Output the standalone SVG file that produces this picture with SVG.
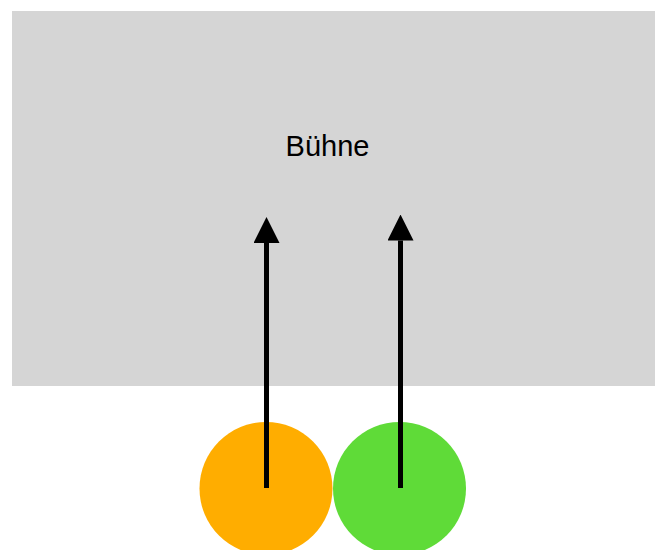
<svg xmlns="http://www.w3.org/2000/svg" width="657" height="550" viewBox="0 0 657 550">
<defs>
<style>
.lbl{font-family:"Liberation Sans",Arial,sans-serif;font-size:29px;fill:#000}
.arrow{stroke:#000;stroke-width:5;fill:none}
</style>
<marker id="ah" markerUnits="userSpaceOnUse" markerWidth="26" markerHeight="26" viewBox="0 0 26 26" refX="0" refY="13" orient="auto">
<path d="M0,0 L26,13 L0,26 Z" fill="#000"/>
</marker>
</defs>
<rect width="657" height="550" fill="#fff"/>
<g id="buehne">
<rect x="12" y="11" width="643" height="375" fill="#d5d5d5"/>
<text class="lbl" x="327.5" y="155.5" text-anchor="middle">Bühne</text>
</g>
<g id="orange">
<circle cx="266" cy="488.5" r="66.5" fill="#ffad00"/>
</g>
<g id="green">
<circle cx="399.5" cy="488.5" r="66.5" fill="#5fdb38"/>
</g>
<g id="connectors">
<line class="arrow" x1="266.5" y1="488" x2="266.5" y2="243" marker-end="url(#ah)"/>
<line class="arrow" x1="400.5" y1="488" x2="400.5" y2="240.5" marker-end="url(#ah)"/>
</g>
</svg>
